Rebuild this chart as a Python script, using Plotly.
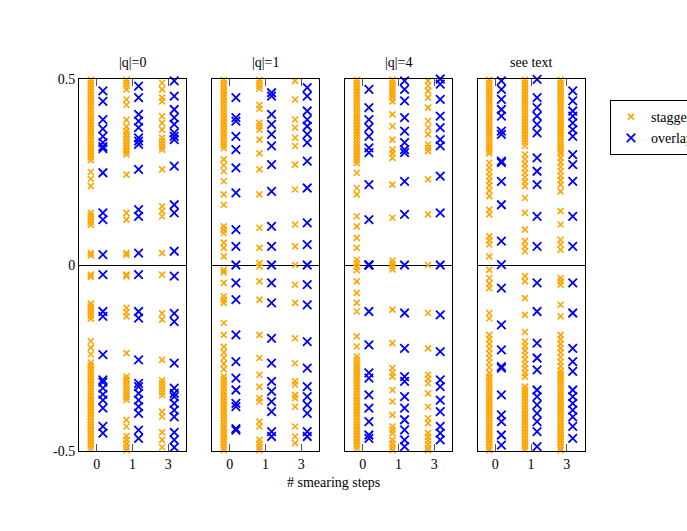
import plotly.graph_objects as go

steps = ['0', '1', '3']
panel_titles = ['|q|=0', '|q|=1', '|q|=4', 'see text']
series_names = ['staggered', 'overlap']
ytick_vals = [-0.5, 0, 0.5]
ytick_text = ['-0.5', '0', '0.5']

# ---------------- |q|=0 ----------------
q0_stag_s0 = [0.498, 0.490, 0.482, 0.474, 0.466, 0.458, 0.450, 0.442, 0.434, 0.426, 0.418, 0.410, 0.402, 0.394,
              0.386, 0.378, 0.370, 0.362, 0.354, 0.346, 0.338, 0.330, 0.322, 0.314, 0.306, 0.298, 0.290, 0.282,
              0.250, 0.232, 0.212, 0.140, 0.132, 0.124, 0.116, 0.108, 0.032, 0.026,
              -0.026, -0.032, -0.104, -0.112, -0.120, -0.128, -0.136, -0.144, -0.205, -0.222, -0.240,
              -0.262, -0.270, -0.278, -0.286, -0.294, -0.302, -0.310, -0.318, -0.326, -0.334, -0.342, -0.350,
              -0.358, -0.366, -0.374, -0.382, -0.390, -0.398, -0.406, -0.414, -0.422, -0.430, -0.438, -0.446,
              -0.454, -0.462, -0.470, -0.478, -0.486, -0.494]
q0_stag_s1 = [0.498, 0.490, 0.482, 0.472, 0.445, 0.430, 0.390, 0.372, 0.360, 0.352, 0.344, 0.336, 0.328, 0.320,
              0.312, 0.304, 0.297, 0.243, 0.140, 0.122, 0.032, 0.027,
              -0.026, -0.030, -0.115, -0.127, -0.138, -0.237, -0.300, -0.308, -0.316, -0.324, -0.332, -0.340,
              -0.348, -0.356, -0.363, -0.416, -0.434, -0.460, -0.470, -0.480, -0.490, -0.498]
q0_stag_s3 = [0.490, 0.472, 0.450, 0.440, 0.400, 0.382, 0.364, 0.342, 0.334, 0.326, 0.318, 0.310, 0.257,
              0.158, 0.145, 0.131, 0.032, -0.026, -0.130, -0.147, -0.255, -0.310, -0.318, -0.326, -0.334,
              -0.342, -0.350, -0.394, -0.408, -0.450, -0.470, -0.490]
q0_ovl_s0 = [0.468, 0.440, 0.391, 0.366, 0.346, 0.329, 0.318, 0.313, 0.248, 0.140, 0.122, 0.028,
             -0.026, -0.125, -0.138, -0.241, -0.309, -0.315, -0.331, -0.348, -0.363, -0.385, -0.434, -0.452]
q0_ovl_s1 = [0.481, 0.450, 0.405, 0.387, 0.369, 0.342, 0.333, 0.324, 0.257, 0.149, 0.131, 0.032,
             -0.026, -0.125, -0.143, -0.255, -0.318, -0.327, -0.345, -0.363, -0.381, -0.399, -0.444, -0.466]
q0_ovl_s3 = [0.495, 0.454, 0.418, 0.396, 0.378, 0.355, 0.346, 0.337, 0.266, 0.162, 0.140, 0.037,
             -0.030, -0.130, -0.152, -0.264, -0.331, -0.345, -0.354, -0.372, -0.390, -0.408, -0.450, -0.470,
             -0.490]

# ---------------- |q|=1 ----------------
q1_stag_s0 = [0.498, 0.490, 0.482, 0.474, 0.466, 0.458, 0.450, 0.442, 0.434, 0.426, 0.418, 0.410, 0.402, 0.394,
              0.386, 0.378, 0.370, 0.362, 0.354, 0.346, 0.338, 0.330, 0.322, 0.314,
              0.284, 0.268, 0.252, 0.225, 0.190, 0.162, 0.104, 0.095, 0.086, 0.060, 0.046, 0.023,
              -0.013, -0.020, -0.048, -0.084, -0.093, -0.102, -0.156, -0.188, -0.220, -0.235, -0.250, -0.265,
              -0.280, -0.300, -0.308, -0.316, -0.324, -0.332, -0.340, -0.348, -0.356, -0.364, -0.372, -0.380,
              -0.388, -0.396, -0.404, -0.412, -0.420, -0.428, -0.436, -0.444, -0.452, -0.460, -0.468, -0.476,
              -0.484, -0.492, -0.498]
q1_stag_s1 = [0.498, 0.490, 0.482, 0.474, 0.430, 0.420, 0.382, 0.373, 0.364, 0.337, 0.300, 0.257, 0.190,
              0.100, 0.046, 0.005, -0.004, -0.044, -0.093, -0.188, -0.250, -0.295, -0.327, -0.358, -0.367,
              -0.421, -0.434, -0.470, -0.480, -0.490, -0.498]
q1_stag_s3 = [0.495, 0.445, 0.391, 0.369, 0.342, 0.320, 0.270, 0.203, 0.109, 0.050, 0.0, -0.053, -0.102,
              -0.197, -0.264, -0.313, -0.322, -0.349, -0.358, -0.381, -0.434, -0.461, -0.479]
q1_ovl_s0 = [0.450, 0.396, 0.387, 0.346, 0.310, 0.261, 0.194, 0.095, 0.050, 0.0, -0.048, -0.093, -0.188,
             -0.260, -0.304, -0.336, -0.372, -0.381, -0.440, -0.444]
q1_ovl_s1 = [0.463, 0.454, 0.405, 0.378, 0.351, 0.320, 0.270, 0.198, 0.104, 0.050, 0.0, -0.048, -0.102,
             -0.197, -0.264, -0.313, -0.340, -0.367, -0.394, -0.448, -0.461]
q1_ovl_s3 = [0.477, 0.454, 0.414, 0.391, 0.373, 0.351, 0.329, 0.279, 0.207, 0.113, 0.055, 0.0, -0.053,
             -0.107, -0.206, -0.277, -0.327, -0.354, -0.376, -0.399, -0.448, -0.461]

# ---------------- |q|=4 ----------------
q4_stag_s0 = [0.498, 0.490, 0.482, 0.474, 0.466, 0.458, 0.450, 0.442, 0.434, 0.426, 0.418, 0.410, 0.402, 0.394,
              0.386, 0.378, 0.370, 0.362, 0.354, 0.346, 0.338, 0.330, 0.322, 0.314, 0.306, 0.298, 0.290, 0.282,
              0.274, 0.248, 0.207, 0.190, 0.131, 0.104, 0.073, 0.046, 0.014, 0.005, -0.005, -0.014,
              -0.044, -0.075, -0.102, -0.125, -0.192, -0.219, -0.246, -0.254, -0.262, -0.270, -0.278, -0.286,
              -0.294, -0.302, -0.310, -0.318, -0.326, -0.334, -0.342, -0.350, -0.358, -0.366, -0.374, -0.382,
              -0.390, -0.398, -0.406, -0.414, -0.422, -0.430, -0.438, -0.446, -0.454, -0.462, -0.470, -0.478,
              -0.486, -0.494]
q4_stag_s1 = [0.498, 0.490, 0.482, 0.474, 0.466, 0.458, 0.450, 0.440, 0.405, 0.373, 0.337, 0.310, 0.300,
              0.288, 0.216, 0.127, 0.012, 0.004, -0.004, -0.012, -0.120, -0.210, -0.277, -0.289, -0.300,
              -0.336, -0.367, -0.403, -0.434, -0.443, -0.452, -0.470, -0.480, -0.490, -0.498]
q4_stag_s3 = [0.495, 0.482, 0.468, 0.450, 0.423, 0.387, 0.369, 0.351, 0.324, 0.315, 0.306, 0.230, 0.136,
              0.0, -0.129, -0.224, -0.295, -0.306, -0.318, -0.345, -0.381, -0.412, -0.425, -0.452, -0.462,
              -0.472, -0.482, -0.492, -0.498]
q4_ovl_s0 = [0.472, 0.423, 0.391, 0.369, 0.346, 0.315, 0.302, 0.216, 0.122, 0.0, 0.0, 0.0, 0.0,
             -0.125, -0.215, -0.290, -0.304, -0.349, -0.385, -0.421, -0.457, -0.466]
q4_ovl_s1 = [0.495, 0.472, 0.441, 0.396, 0.360, 0.329, 0.310, 0.302, 0.225, 0.136, 0.0, -0.129, -0.224,
             -0.300, -0.313, -0.354, -0.385, -0.416, -0.443, -0.470, -0.488]
q4_ovl_s3 = [0.500, 0.486, 0.445, 0.400, 0.369, 0.337, 0.320, 0.239, 0.140, 0.0, -0.134, -0.233, -0.309,
             -0.327, -0.363, -0.394, -0.434, -0.452, -0.470]

# ---------------- see text ----------------
qx_stag_s0 = [0.498, 0.490, 0.482, 0.474, 0.466, 0.458, 0.450, 0.442, 0.434, 0.426, 0.418, 0.410, 0.402, 0.394,
              0.386, 0.378, 0.370, 0.362, 0.354, 0.346, 0.338, 0.330, 0.322, 0.314, 0.306, 0.300,
              0.275, 0.262, 0.250, 0.238, 0.226, 0.214, 0.200, 0.185, 0.149, 0.136, 0.077, 0.066, 0.055,
              0.023, -0.013, -0.035, -0.050, -0.062, -0.129, -0.143, -0.188, -0.200, -0.212, -0.225, -0.238,
              -0.250, -0.262, -0.275, -0.290, -0.300, -0.308, -0.316, -0.324, -0.332, -0.340, -0.348, -0.356,
              -0.364, -0.372, -0.380, -0.388, -0.396, -0.404, -0.412, -0.420, -0.428, -0.436, -0.444, -0.452,
              -0.460, -0.468, -0.476, -0.484, -0.492, -0.498]
qx_stag_s1 = [0.498, 0.490, 0.482, 0.474, 0.466, 0.458, 0.450, 0.442, 0.434, 0.426, 0.418, 0.410, 0.402, 0.394,
              0.386, 0.378, 0.370, 0.362, 0.354, 0.346, 0.338, 0.330, 0.320,
              0.297, 0.285, 0.272, 0.260, 0.248, 0.236, 0.224, 0.212, 0.180, 0.140, 0.095, 0.064, 0.050, 0.037,
              -0.030, -0.044, -0.089, -0.134, -0.180, -0.206, -0.218, -0.230, -0.242, -0.254, -0.266, -0.278,
              -0.290, -0.300, -0.327, -0.335, -0.343, -0.351, -0.359, -0.367, -0.375, -0.383, -0.391, -0.399,
              -0.407, -0.415, -0.423, -0.431, -0.439, -0.447, -0.455, -0.463, -0.471, -0.479, -0.487, -0.495]
qx_stag_s3 = [0.498, 0.490, 0.482, 0.474, 0.466, 0.458, 0.450, 0.442, 0.434, 0.426, 0.418, 0.410, 0.402, 0.394,
              0.386, 0.378, 0.370, 0.362, 0.354, 0.346, 0.338, 0.330, 0.322, 0.314, 0.306, 0.300,
              0.288, 0.276, 0.264, 0.252, 0.240, 0.228, 0.216, 0.198, 0.145, 0.109, 0.068, 0.055, 0.041,
              -0.035, -0.044, -0.053, -0.107, -0.138, -0.188, -0.200, -0.212, -0.224, -0.236, -0.248, -0.260,
              -0.272, -0.284, -0.292, -0.300, -0.308, -0.316, -0.324, -0.332, -0.340, -0.348, -0.356, -0.364,
              -0.372, -0.380, -0.388, -0.396, -0.404, -0.412, -0.420, -0.428, -0.436, -0.444, -0.452, -0.460,
              -0.468, -0.476, -0.484, -0.492, -0.498]
qx_ovl_s0 = [0.495, 0.472, 0.445, 0.418, 0.400, 0.360, 0.351, 0.279, 0.275, 0.225, 0.162, 0.064, 0.001,
             -0.062, -0.161, -0.228, -0.273, -0.277, -0.349, -0.403, -0.421, -0.457, -0.484]
qx_ovl_s1 = [0.499, 0.450, 0.423, 0.400, 0.378, 0.355, 0.288, 0.252, 0.216, 0.131, 0.050, -0.048, -0.125,
             -0.210, -0.250, -0.282, -0.336, -0.354, -0.376, -0.399, -0.421, -0.448, -0.488]
qx_ovl_s3 = [0.468, 0.441, 0.414, 0.400, 0.382, 0.364, 0.346, 0.297, 0.270, 0.225, 0.131, 0.050, -0.048,
             -0.129, -0.224, -0.260, -0.286, -0.336, -0.354, -0.372, -0.390, -0.408, -0.434, -0.466]

panels = [
    ([q0_stag_s0, q0_stag_s1, q0_stag_s3], [q0_ovl_s0, q0_ovl_s1, q0_ovl_s3]),
    ([q1_stag_s0, q1_stag_s1, q1_stag_s3], [q1_ovl_s0, q1_ovl_s1, q1_ovl_s3]),
    ([q4_stag_s0, q4_stag_s1, q4_stag_s3], [q4_ovl_s0, q4_ovl_s1, q4_ovl_s3]),
    ([qx_stag_s0, qx_stag_s1, qx_stag_s3], [qx_ovl_s0, qx_ovl_s1, qx_ovl_s3]),
]

W, H = 687, 531
FONT = 'Liberation Serif, Times New Roman, serif'
x_left_px = [79, 212, 345, 477.5]
panel_w_px = 107
y_top_px, y_bot_px = 79, 451
ydom = [1 - y_bot_px / H, 1 - y_top_px / H]

colors = ['#FFA500', '#0000FF']
sizes = [6, 8.5]
widths = [1.6, 1.8]
offsets = [-0.17, 0.17]

fig = go.Figure()
layout = dict(
    width=W, height=H,
    margin=dict(l=0, r=0, t=0, b=0, autoexpand=False),
    paper_bgcolor='white', plot_bgcolor='white',
    font=dict(family=FONT, size=14, color='black'),
    showlegend=True,
    legend=dict(x=610 / W, y=1 - 100 / H, xanchor='left', yanchor='top',
                bordercolor='black', borderwidth=1, bgcolor='white',
                font=dict(family=FONT, size=14), tracegroupgap=0),
)
annotations = []

for p, (stag, ovl) in enumerate(panels):
    sfx = '' if p == 0 else str(p + 1)
    xa, ya = 'x' + sfx, 'y' + sfx
    for s, series in enumerate([stag, ovl]):
        xs, ys = [], []
        for i, vals in enumerate(series):
            xs += [i + offsets[s]] * len(vals)
            ys += vals
        fig.add_trace(go.Scatter(
            x=xs, y=ys, mode='markers', name=series_names[s],
            xaxis=xa, yaxis=ya, showlegend=(p == 0), legendgroup=series_names[s],
            marker=dict(symbol='x-thin', size=sizes[s], color=colors[s],
                        line=dict(color=colors[s], width=widths[s])),
            cliponaxis=False,
        ))
    x0 = x_left_px[p] / W
    x1 = (x_left_px[p] + panel_w_px) / W
    layout['xaxis' + sfx] = dict(
        domain=[x0, x1], anchor=ya, range=[-0.5, 2.5],
        tickvals=[0, 1, 2], ticktext=steps, ticks='inside', ticklen=7,
        tickcolor='#555', tickwidth=1, showline=True, linecolor='black', linewidth=1,
        mirror='ticks', showgrid=False, zeroline=False,
        tickfont=dict(family=FONT, size=14),
    )
    layout['yaxis' + sfx] = dict(
        domain=ydom, anchor=xa, range=[-0.5, 0.5],
        tickvals=ytick_vals, ticktext=ytick_text, showticklabels=(p == 0),
        ticks='', showline=True, linecolor='black', linewidth=1, mirror=True,
        showgrid=False, zeroline=True, zerolinecolor='black', zerolinewidth=1,
        tickfont=dict(family=FONT, size=14),
    )
    annotations.append(dict(
        x=(x0 + x1) / 2, y=1 - 62 / H, xref='paper', yref='paper',
        text=panel_titles[p], showarrow=False, font=dict(family=FONT, size=14),
        xanchor='center', yanchor='middle'))

annotations.append(dict(
    x=333 / W, y=1 - 482 / H, xref='paper', yref='paper', text='# smearing steps',
    showarrow=False, font=dict(family=FONT, size=14), xanchor='center', yanchor='middle'))
layout['annotations'] = annotations
fig.update_layout(**layout)

fig.write_html('out.html', config={'displayModeBar': False},
               post_script="document.body.style.margin='0';")
